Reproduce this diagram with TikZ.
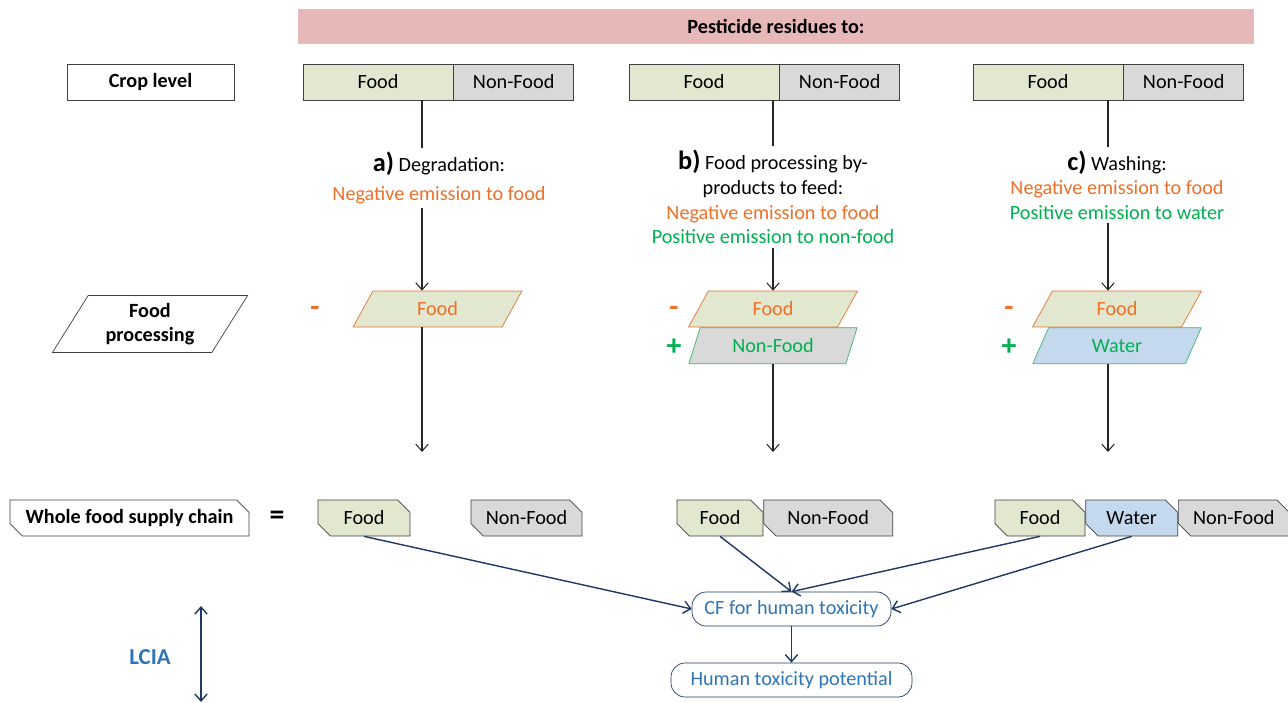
\documentclass[tikz,border=0pt]{standalone}
\usepackage{fontspec}
\setmainfont{Carlito}
\usepackage{tikz}
\usetikzlibrary{positioning,shapes.geometric,shapes.misc,arrows.meta}
\definecolor{foodgreen}{RGB}{226,232,208}
\definecolor{nongray}{RGB}{217,217,217}
\definecolor{waterblue}{RGB}{197,217,238}
\definecolor{barpink}{RGB}{230,184,183}
\definecolor{negorange}{RGB}{237,112,40}
\definecolor{posgreen}{RGB}{0,176,80}
\definecolor{edgegreen}{RGB}{60,180,110}
\definecolor{lciablue}{RGB}{46,117,182}
\definecolor{navyline}{RGB}{31,56,100}
\definecolor{boxgray}{RGB}{64,64,64}
\tikzstyle{levelbox} = [draw=boxgray, fill=white, rectangle, minimum height=0.72cm,
    inner sep=0, font=\bfseries]
\tikzstyle{cropfood} = [draw=boxgray, fill=foodgreen, rectangle, minimum width=3cm,
    minimum height=0.72cm, inner sep=0]
\tikzstyle{cropnon} = [cropfood, fill=nongray, minimum width=2.4cm]
\tikzstyle{procbox} = [trapezium, trapezium left angle=66, trapezium right angle=114,
    trapezium stretches=true, minimum width=3.38cm, minimum height=0.72cm, inner sep=0]
\tikzstyle{procfood} = [procbox, draw=negorange!80!brown, fill=foodgreen, text=negorange]
\tikzstyle{procnon} = [procbox, draw=edgegreen, fill=nongray, text=posgreen]
\tikzstyle{procwater} = [procbox, draw=edgegreen, fill=waterblue, text=posgreen]
\tikzstyle{chainbox} = [chamfered rectangle, chamfered rectangle corners={north east,south west},
    chamfered rectangle xsep=0.12cm, draw=boxgray, minimum height=0.72cm, inner sep=0]
\tikzstyle{chainfood} = [chainbox, fill=foodgreen]
\tikzstyle{chainnon} = [chainbox, fill=nongray]
\tikzstyle{chainwater} = [chainbox, fill=waterblue]
\tikzstyle{sign} = [font=\fontsize{17}{17}\selectfont\bfseries]
\tikzstyle{desc} = [align=center, inner sep=2pt]
\tikzstyle{lcia} = [draw=navyline, rounded corners=8pt, text=lciablue, minimum height=0.68cm]
\tikzstyle{flow} = [-{Straight Barb[length=4pt,width=7pt]}, black!85, semithick]
\tikzstyle{impact} = [-{Straight Barb[length=4pt,width=7pt]}, navyline, thick]
\newcommand{\caseletter}[1]{{\fontsize{15}{15}\selectfont\bfseries #1}}

\begin{document}
\fontsize{11.5}{14}\selectfont
\begin{tikzpicture}[x=0.02cm, y=-0.02cm]
    \useasboundingbox (0,0) rectangle (1288,703);
    \node [fill=barpink, minimum width=19.12cm, minimum height=0.7cm, font=\bfseries] (bar) at (776,26.5) {Pesticide residues to:};

    \node [levelbox, minimum width=3.34cm] (croplevel) at (150.5,82) {Crop level};
    \node [cropfood] (cropFoodA) at (378,82) {Food};
    \node [cropnon, right=0pt of cropFoodA] (cropNonA) {Non-Food};
    \node [cropfood] (cropFoodB) at (704,82) {Food};
    \node [cropnon, right=0pt of cropFoodB] (cropNonB) {Non-Food};
    \node [cropfood] (cropFoodC) at (1048,82) {Food};
    \node [cropnon, right=0pt of cropFoodC] (cropNonC) {Non-Food};

    \node [desc] (descA) at (439,178) {\caseletter{a)} Degradation:\\[3pt]
        \textcolor{negorange}{Negative emission to food}};
    \node [desc] (descB) at (773,197) {\caseletter{b)} Food processing by-\\
        products to feed:\\ \textcolor{negorange}{Negative emission to food}\\
        \textcolor{posgreen}{Positive emission to non-food}};
    \node [desc] (descC) at (1117,185) {\caseletter{c)} Washing:\\
        \textcolor{negorange}{Negative emission to food}\\
        \textcolor{posgreen}{Positive emission to water}};

    \node [trapezium, trapezium left angle=62, trapezium right angle=118, trapezium stretches=true,
        draw=boxgray, minimum width=3.94cm, minimum height=1.14cm, align=center, font=\bfseries]
        (proclevel) at (150,324) {Food\\processing};
    \node [sign, text=negorange] (minusA) at (315,311) {-};
    \node [procfood] (procFoodA) at (437.5,309) {Food};
    \node [sign, text=negorange] (minusB) at (674,311) {-};
    \node [sign, text=posgreen] (plusB) at (674,347) {+};
    \node [procfood] (procFoodB) at (773,309) {Food};
    \node [procnon, below=0pt of procFoodB] (procNonB) {Non-Food};
    \node [sign, text=negorange] (minusC) at (1009,311) {-};
    \node [sign, text=posgreen] (plusC) at (1009,347) {+};
    \node [procfood] (procFoodC) at (1117,309) {Food};
    \node [procwater, below=0pt of procFoodC] (procWaterC) {Water};

    \coordinate (endA) at (422,452);
    \coordinate (endB) at (773,452);
    \coordinate (endC) at (1108,452);
    \draw [black!85, semithick] (cropFoodA.south -| endA) -- (descA.north -| endA);
    \draw [flow] (descA.south -| endA) -- (procFoodA.north -| endA);
    \draw [flow] (procFoodA.south -| endA) -- (endA);
    \draw [black!85, semithick] (cropFoodB.south -| endB) -- (descB.north -| endB);
    \draw [flow] (descB.south -| endB) -- (procFoodB.north -| endB);
    \draw [flow] (procNonB.south -| endB) -- (endB);
    \draw [black!85, semithick] (cropFoodC.south -| endC) -- (descC.north -| endC);
    \draw [flow] (descC.south -| endC) -- (procFoodC.north -| endC);
    \draw [flow] (procWaterC.south -| endC) -- (endC);

    \node [chainbox, fill=white, minimum width=4.78cm, font=\bfseries] (chainlevel) at (129.5,518) {Whole food supply chain};
    \node [sign] (equals) at (277,518) {=};
    \node [chainfood, minimum width=1.84cm] (chainFoodA) at (364,518) {Food};
    \node [chainnon, minimum width=2.22cm] (chainNonA) at (526.5,518) {Non-Food};
    \node [chainfood, minimum width=1.72cm] (chainFoodB) at (720,518) {Food};
    \node [chainnon, minimum width=2.58cm, right=0pt of chainFoodB] (chainNonB) {Non-Food};
    \node [chainfood, minimum width=1.8cm] (chainFoodC) at (1040,518) {Food};
    \node [chainwater, minimum width=1.84cm, right=0pt of chainFoodC] (chainWaterC) {Water};
    \node [chainnon, minimum width=2.22cm, right=0pt of chainWaterC] (chainNonC) {Non-Food};

    \node [lcia, minimum width=3.98cm] (cf) at (791.5,609) {CF for human toxicity};
    \node [lcia, minimum width=4.82cm] (htp) at (791.5,680) {Human toxicity potential};
    \draw [impact] (chainFoodA.south) -- (cf.west);
    \draw [impact] (chainFoodB.south) -- (cf.north);
    \draw [impact] (chainFoodC.south) -- (cf.north);
    \draw [impact] (chainWaterC.south) -- (cf.east);
    \draw [impact] (cf) -- (htp);

    \node [text=lciablue, font=\fontsize{13}{13}\selectfont\bfseries] (lciaLabel) at (150,657) {LCIA};
    \coordinate (lciaTop) at (201,606);
    \coordinate (lciaBot) at (201,702);
    \draw [{Straight Barb[length=4pt,width=7pt]}-{Straight Barb[length=4pt,width=7pt]}, navyline, thick] (lciaTop) -- (lciaBot);
\end{tikzpicture}
\end{document}
